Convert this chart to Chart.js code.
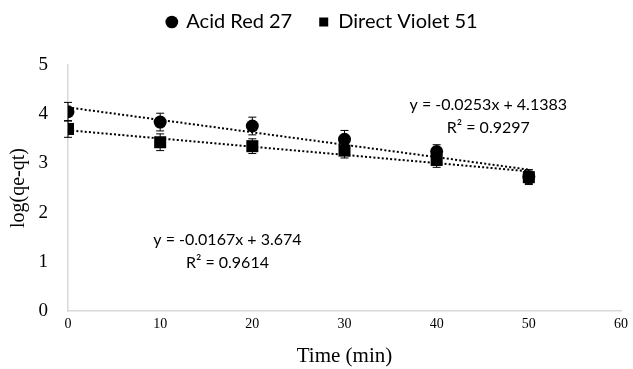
<!DOCTYPE html>
<html>
<head>
<meta charset="utf-8">
<script src="https://cdn.jsdelivr.net/npm/chart.js@4"></script>
<style>
html,body{margin:0;padding:0;background:#fff;}
#wrap{width:633px;height:369px;}
</style>
</head>
<body>
<div id="wrap"><canvas id="c" width="633" height="369"></canvas></div>
<script>
// ---- data ----
const times = [0, 10, 20, 30, 40, 50];
const acidRed = [4.05, 3.84, 3.76, 3.49, 3.24, 2.73];
const acidRedErr = [0.19, 0.18, 0.18, 0.18, 0.14, 0.14];
const directViolet = [3.70, 3.43, 3.35, 3.26, 3.07, 2.72];
const directVioletErr = [0.17, 0.17, 0.15, 0.15, 0.15, 0.15];
const seriesNames = ['Acid Red 27', 'Direct Violet 51'];
const trendSlope = [-0.0253, -0.0167];
const trendIntercept = [4.1383, 3.674];
const trendR2 = ['0.9297', '0.9614'];
const trendRange = [0, 50];
const xTicks = [0, 10, 20, 30, 40, 50, 60];
const yTicks = [0, 1, 2, 3, 4, 5];

const toPts = (xs, ys) => xs.map((x, i) => ({x: x, y: ys[i]}));
const trendPts = k => trendRange.map(x => ({x: x, y: trendIntercept[k] + trendSlope[k] * x}));

const errorBars = {
  id: 'errorBars',
  afterDatasetsDraw(chart) {
    const ctx = chart.ctx, ys = chart.scales.y;
    chart.data.datasets.forEach((ds, di) => {
      if (!ds.errors) return;
      const meta = chart.getDatasetMeta(di);
      ctx.save();
      ctx.strokeStyle = '#000';
      ctx.lineWidth = 1;
      meta.data.forEach((pt, i) => {
        const v = ds.data[i].y, e = ds.errors[i];
        const y1 = ys.getPixelForValue(v + e), y2 = ys.getPixelForValue(v - e);
        const x = pt.x;
        ctx.beginPath();
        ctx.moveTo(x, y1); ctx.lineTo(x, y2);
        ctx.moveTo(x - 4, y1); ctx.lineTo(x + 4, y1);
        ctx.moveTo(x - 4, y2); ctx.lineTo(x + 4, y2);
        ctx.stroke();
      });
      ctx.restore();
    });
  }
};

// legend spacing / offset
const legendLayout = {
  id: 'legendLayout',
  beforeInit(chart) {
    const fit = chart.legend.fit;
    chart.legend.fit = function () { fit.call(this); this.height = 62; };
  },
  afterLayout(chart) {
    chart.legend.left += 11; chart.legend.right += 11;
    chart.legend.top -= 18;
  }
};

// equation labels anchored in data coordinates
const labelAnchors = [{x: 45.6, y: 4.19}, {x: 17.3, y: 1.44}];
const eqLabels = {
  id: 'eqLabels',
  afterDraw(chart) {
    const ctx = chart.ctx, xs = chart.scales.x, ys = chart.scales.y;
    ctx.save();
    ctx.fillStyle = '#000';
    ctx.font = '16px Lato';
    ctx.textAlign = 'center';
    ctx.textBaseline = 'middle';
    labelAnchors.forEach((a, k) => {
      const px = xs.getPixelForValue(a.x), py = ys.getPixelForValue(a.y);
      const sign = trendSlope[k] < 0 ? '-' : '';
      ctx.fillText('y = ' + sign + Math.abs(trendSlope[k]) + 'x + ' + trendIntercept[k], px, py);
      ctx.fillText('R\u00B2 = ' + trendR2[k], px, py + 23);
    });
    ctx.restore();
  }
};

new Chart(document.getElementById('c'), {
  type: 'scatter',
  data: {
    datasets: [
      {label: seriesNames[0], data: toPts(times, acidRed), errors: acidRedErr,
       pointStyle: 'circle', pointRadius: 6.5, pointHoverRadius: 6.5,
       backgroundColor: '#000', borderColor: '#000', borderWidth: 0, showLine: false},
      {label: seriesNames[1], data: toPts(times, directViolet), errors: directVioletErr,
       pointStyle: 'rect', pointRadius: 8.5, pointHoverRadius: 8.5,
       backgroundColor: '#000', borderColor: '#000', borderWidth: 0, showLine: false},
      {label: 'trend1', data: trendPts(0), showLine: true, pointRadius: 0,
       borderColor: '#000', borderWidth: 2, borderDash: [2, 2.2], fill: false},
      {label: 'trend2', data: trendPts(1), showLine: true, pointRadius: 0,
       borderColor: '#000', borderWidth: 2, borderDash: [2, 2.2], fill: false}
    ]
  },
  options: {
    responsive: false,
    animation: false,
    layout: {padding: {left: 0, right: 10, top: 3, bottom: 0}},
    plugins: {
      tooltip: {enabled: false},
      legend: {
        position: 'top',
        labels: {
          filter: item => item.datasetIndex < 2,
          usePointStyle: true,
          boxWidth: 9, boxHeight: 9,
          color: '#000',
          font: {family: 'Lato', size: 20},
          padding: 27
        }
      }
    },
    scales: {
      x: {
        type: 'linear', min: 0, max: 60,
        afterBuildTicks: s => { s.ticks = xTicks.map(v => ({value: v})); },
        grid: {display: false, drawTicks: false},
        border: {color: '#d9d9d9', width: 1.5},
        ticks: {color: '#000', font: {family: 'Liberation Serif', size: 14}, padding: 5},
        title: {display: true, text: 'Time (min)', color: '#000',
                font: {family: 'Liberation Serif', size: 21}, padding: {top: 2, bottom: 0}},
        afterFit: s => { s.height = 58; }
      },
      y: {
        type: 'linear', min: 0, max: 5,
        afterBuildTicks: s => { s.ticks = yTicks.map(v => ({value: v})); },
        grid: {display: false, drawTicks: false},
        border: {color: '#d9d9d9', width: 1.5},
        ticks: {color: '#000', font: {family: 'Liberation Serif', size: 19}, padding: 20},
        title: {display: true, text: 'log(qe-qt)', color: '#000',
                font: {family: 'Liberation Serif', size: 20}, padding: {top: 7, bottom: 4}},
        afterFit: s => { s.width = 68; }
      }
    }
  },
  plugins: [errorBars, legendLayout, eqLabels]
});
</script>
</body>
</html>
